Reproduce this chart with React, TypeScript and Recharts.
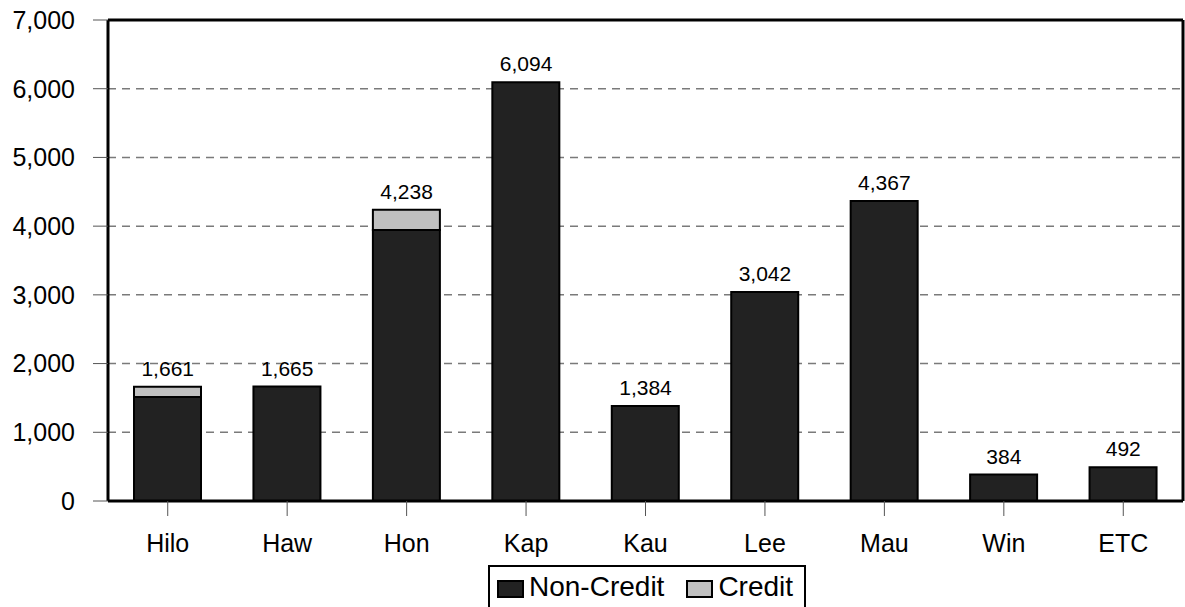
import React from 'react';
import { ComposedChart, Bar, Line, XAxis, YAxis, CartesianGrid, LabelList, Legend } from 'recharts';

const campuses = ['Hilo', 'Haw', 'Hon', 'Kap', 'Kau', 'Lee', 'Mau', 'Win', 'ETC'];
const nonCredit = [1515, 1665, 3945, 6094, 1384, 3042, 4367, 384, 492];
const credit = [146, 0, 293, 0, 0, 0, 0, 0, 0];
const totals = [1661, 1665, 4238, 6094, 1384, 3042, 4367, 384, 492];
const yTicks = [0, 1000, 2000, 3000, 4000, 5000, 6000, 7000];
const legendOrder = ['Non-Credit', 'Credit'];

const data = campuses.map((c, i) => ({
  name: c,
  nonCredit: nonCredit[i],
  credit: credit[i],
  total: totals[i],
}));

const FONT = '"Liberation Sans", Arial, sans-serif';
const fmt = (v: number) => v.toLocaleString('en-US');

const LegendBox = (props: any) => {
  const payload = [...(props.payload || [])]
    .filter((p: any) => legendOrder.includes(p.value))
    .sort((a: any, b: any) => legendOrder.indexOf(a.value) - legendOrder.indexOf(b.value));
  return (
    <div
      style={{
        border: '2px solid #000',
        height: 50,
        boxSizing: 'border-box',
        display: 'flex',
        alignItems: 'flex-start',
        paddingLeft: 7,
        paddingTop: 4,
        fontFamily: FONT,
        fontSize: 28,
        color: '#000',
        background: '#fff',
      }}
    >
      {payload.map((p: any, i: number) => (
        <div key={i} style={{ display: 'flex', alignItems: 'flex-start' }}>
          <span
            style={{
              display: 'inline-block',
              width: 27,
              height: 18,
              marginTop: 9,
              border: '2px solid #000',
              boxSizing: 'border-box',
              background: p.color,
              marginRight: 5,
              marginLeft: i === 0 ? 0 : 22,
            }}
          />
          <span style={{ lineHeight: 'normal' }}>{p.value}</span>
        </div>
      ))}
    </div>
  );
};

export default function App() {
  return (
    <div style={{ position: 'absolute', left: 0, top: 0, background: '#fff' }}>
      <ComposedChart
        width={1185}
        height={607}
        data={data}
        margin={{ top: 19, right: 1, left: 0, bottom: 66 }}
        barSize={67}
      >
        <CartesianGrid vertical={false} stroke="#7a7a7a" strokeWidth={1.5} strokeDasharray="8 6" />
        <XAxis
          dataKey="name"
          height={40}
          axisLine={{ stroke: '#000', strokeWidth: 3 }}
          tickLine={{ stroke: '#555', strokeWidth: 1 }}
          tickSize={15}
          tickMargin={18}
          tick={{ fill: '#000', fontSize: 25, fontFamily: FONT }}
          interval={0}
        />
        <XAxis
          xAxisId="top"
          dataKey="name"
          orientation="top"
          height={1}
          tick={false}
          tickLine={false}
          axisLine={{ stroke: '#000', strokeWidth: 3 }}
        />
        <YAxis
          width={108}
          domain={[0, 7000]}
          ticks={yTicks}
          tickFormatter={fmt}
          axisLine={{ stroke: '#000', strokeWidth: 3 }}
          tickLine={{ stroke: '#555', strokeWidth: 1 }}
          tickSize={15}
          tickMargin={18}
          tick={{ fill: '#000', fontSize: 25, fontFamily: FONT }}
          interval={0}
        />
        <YAxis
          yAxisId="right"
          orientation="right"
          width={1}
          domain={[0, 7000]}
          ticks={yTicks}
          tick={false}
          tickLine={false}
          axisLine={{ stroke: '#000', strokeWidth: 3 }}
        />
        <Legend
          layout="horizontal"
          verticalAlign="middle"
          align="center"
          wrapperStyle={{ top: 565, left: 488, width: 318, height: 50 }}
          content={<LegendBox />}
        />
        <Bar
          dataKey="nonCredit"
          name="Non-Credit"
          stackId="a"
          fill="#222222"
          stroke="#000"
          strokeWidth={2}
          isAnimationActive={false}
        />
        <Bar
          dataKey="credit"
          name="Credit"
          stackId="a"
          fill="#c0c0c0"
          stroke="#000"
          strokeWidth={2}
          isAnimationActive={false}
        />
        <Line
          dataKey="total"
          name="Total"
          xAxisId="top"
          yAxisId="right"
          legendType="none"
          stroke="none"
          dot={false}
          activeDot={false}
          isAnimationActive={false}
        >
          <LabelList
            dataKey="total"
            position="top"
            offset={11}
            formatter={(v: any) => fmt(Number(v))}
            style={{ fill: '#000', fontSize: 21, fontFamily: FONT }}
          />
        </Line>
      </ComposedChart>
    </div>
  );
}
